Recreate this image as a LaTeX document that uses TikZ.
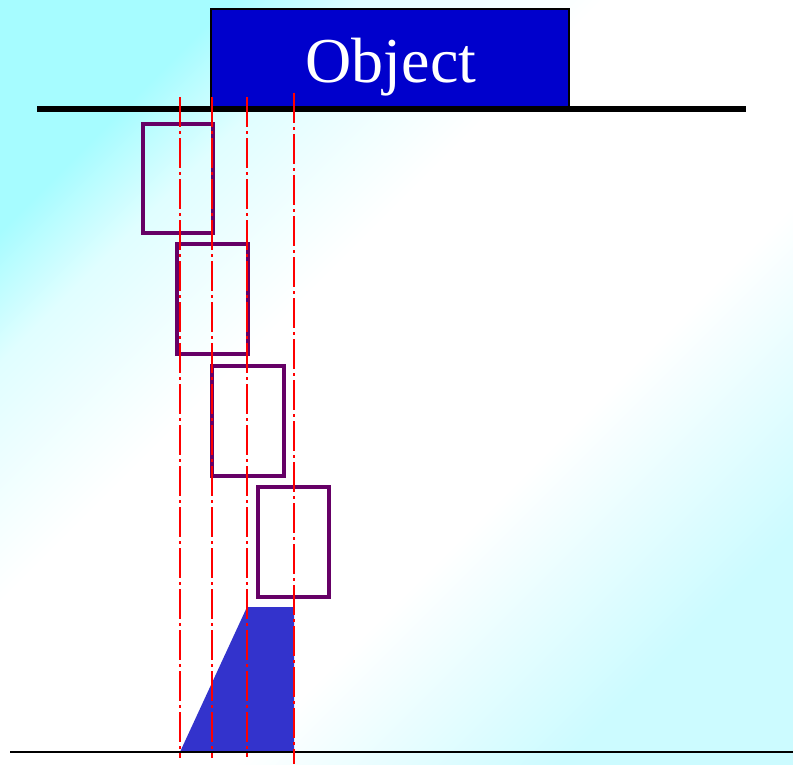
\documentclass[tikz,border=0pt]{standalone}
\usepackage{fontspec}
\setmainfont{Liberation Serif}
\definecolor{objblue}{HTML}{0000CC}
\definecolor{trapblue}{HTML}{3333CC}
\definecolor{rectpurple}{HTML}{660066}
\definecolor{bgA}{HTML}{A6FCFF}
\definecolor{bgB}{HTML}{CCFBFF}
\colorlet{bgAmid}{bgA!35!white}
\pgfdeclarehorizontalshading{bgdiag}{100bp}{color(0bp)=(bgA); color(25bp)=(bgA); color(31bp)=(bgAmid); color(42bp)=(white); color(60bp)=(white); color(75bp)=(bgB); color(100bp)=(bgB)}
\tikzset{
  dashdot/.style={red, line width=2.8pt, dash pattern=on 30pt off 4pt on 3pt off 4pt},
  camrect/.style={draw=rectpurple, line width=3.8pt},
  objbox/.style={draw=black, line width=1.5pt, fill=objblue},
}
\begin{document}
\begin{tikzpicture}[x=1pt,y=-1pt]
\useasboundingbox (0,0) rectangle (793,764);
\shade[shading=bgdiag, shading angle=-45] (0,0) rectangle (793,764);
% object
\draw[objbox] (211,109) rectangle (569,9);
\node[text=white, font=\fontsize{64}{70}\selectfont, anchor=base] (objtext) at (391,82) {Object};
% ground line top
\coordinate (gl1) at (37,109);
\coordinate (gl2) at (746,109);
\draw[line width=5.5pt] (gl1) -- (gl2);
% trapezoid
\fill[trapblue] (180,752) -- (247,607) -- (294,607) -- (294,752) -- cycle;
% bottom line
\coordinate (bl1) at (10,752);
\coordinate (bl2) at (793,752);
\draw[line width=2.2pt] (bl1) -- (bl2);
% rectangles
\draw[camrect] (143,124) rectangle (213,233);
\draw[camrect] (177,244) rectangle (248,354);
\draw[camrect] (212,366) rectangle (284,476);
\draw[camrect] (258,487) rectangle (329,597);
% dash-dot lines
\coordinate (d1a) at (180,97); \coordinate (d1b) at (180,758);
\coordinate (d2a) at (212,97); \coordinate (d2b) at (212,758);
\coordinate (d3a) at (247,97); \coordinate (d3b) at (247,757);
\coordinate (d4a) at (294,93); \coordinate (d4b) at (294,764);
\draw[dashdot] (d1a) -- (d1b);
\draw[dashdot] (d2a) -- (d2b);
\draw[dashdot] (d3a) -- (d3b);
\draw[dashdot] (d4a) -- (d4b);
\end{tikzpicture}
\end{document}
